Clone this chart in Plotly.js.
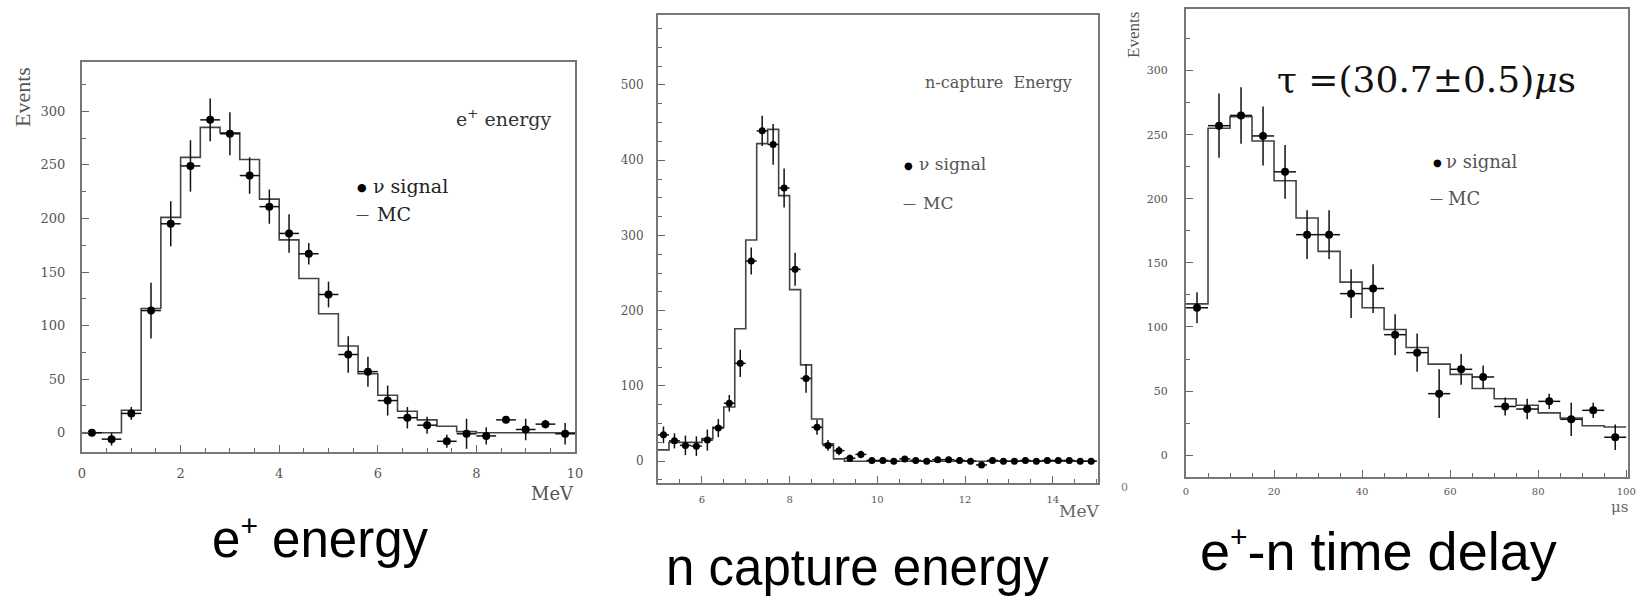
<!DOCTYPE html>
<html>
<head>
<meta charset="utf-8">
<script src="https://cdn.plot.ly/plotly-3.0.1.min.js"></script>
<style>
  html, body { margin: 0; padding: 0; background: #fff; }
  #chart { width: 1641px; height: 600px; }
</style>
</head>
<body>
<div id="chart"></div>
<script>
// ---------- Panel 1: e+ energy (bins of 0.4 MeV from 0 to 10) ----------
const ePosBinStart = 0;
const ePosBinWidth = 0.4;
const ePosData = [0, -6, 18, 114, 195, 249, 292, 279, 240, 211, 186, 167, 129, 73, 57, 30, 14, 7, -8, -1, -3, 12, 3, 8, -1];
const ePosErr  = [3, 6, 6, 26, 21, 24, 20, 20, 17, 16, 18, 10, 12, 17, 14, 14, 10, 8, 6, 14, 8, 3, 10, 4, 10];
const ePosMC   = [0, 0, 21, 116, 201, 257, 285, 280, 255, 218, 180, 144, 111, 81, 55, 35, 20, 12, 6, 1, 0, 0, 0, 0, 0];

// ---------- Panel 2: n capture energy (bins of 0.25 MeV from 5 to 15) ----------
const nBinStart = 5;
const nBinWidth = 0.25;
const nData = [35, 27, 21, 20, 28, 44, 77, 130, 266, 439, 421, 363, 255, 110, 45, 21, 14, 4, 9, 1,
               1, 0, 3, 1, 0, 2, 2, 1, 0, -5, 1, 0, 0, 1, 0, 1, 1, 1, 0, 0];
const nErr  = [11, 10, 13, 13, 14, 12, 11, 18, 18, 20, 27, 26, 22, 19, 10, 7, 6, 5, 5, 4,
               4, 4, 4, 4, 4, 4, 4, 4, 4, 4, 4, 4, 4, 4, 4, 4, 4, 4, 4, 4];
const nMC   = [15, 25, 25, 25, 30, 45, 72, 176, 294, 422, 441, 353, 228, 128, 56, 23, 3, 0, 0, 0,
               0, 0, 0, 0, 0, 0, 0, 0, 0, 0, 0, 0, 0, 0, 0, 0, 0, 0, 0, 0];

// ---------- Panel 3: e+-n time delay (bins of 5 us from 0 to 100) ----------
const tBinStart = 0;
const tBinWidth = 5;
const tData = [115, 257, 265, 249, 221, 172, 172, 126, 130, 94, 80, 48, 67, 61, 38, 36, 42, 28, 35, 14];
const tErr  = [12, 25, 22, 23, 21, 19, 19, 19, 19, 16, 15, 19, 12, 9, 7, 8, 6, 13, 6, 10];
const tMC   = [118, 255, 264, 245, 214, 185, 159, 135, 115, 98, 84, 71, 63, 52, 44, 39, 33, 29, 23, 22];

// ---------- Text ----------
const captions = [
  'e<sup><span style="font-size:30px">+</span></sup> energy',
  'n capture energy',
  'e<sup><span style="font-size:30px">+</span></sup>-n time delay'
];
const panelLabels = ['e<sup>+</sup> energy', 'n-capture  Energy', 'τ =(30.7±0.5)<i>μ</i>s'];
const unitLabels = ['MeV', 'MeV', 'μs'];
const legendData = 'ν signal';
const legendMC = 'MC';
const yTitle = 'Events';

// ---------- helpers ----------
const W = 1641, H = 600;
const px = v => v / W;
const py = v => 1 - v / H;

function centers(start, width, n) {
  const c = [];
  for (let i = 0; i < n; i++) c.push(start + (i + 0.5) * width);
  return c;
}
function stepX(start, width, n) {
  const e = [];
  for (let i = 0; i <= n; i++) e.push(start + i * width);
  return e;
}
function stepY(vals) { return vals.concat([vals[vals.length - 1]]); }

function dataTrace(start, width, vals, errs, xa, ya, msize) {
  return {
    type: 'scatter', mode: 'markers', xaxis: xa, yaxis: ya,
    x: centers(start, width, vals.length), y: vals,
    marker: { color: '#000', size: msize },
    error_y: { type: 'data', array: errs, visible: true, color: '#111', thickness: 1.5, width: 0 },
    error_x: { type: 'constant', value: width / 2, visible: true, color: '#111', thickness: 1.5, width: 0 },
    showlegend: false, hoverinfo: 'skip', cliponaxis: true
  };
}
function mcTrace(start, width, vals, xa, ya) {
  return {
    type: 'scatter', mode: 'lines', xaxis: xa, yaxis: ya,
    x: stepX(start, width, vals.length), y: stepY(vals),
    line: { shape: 'hv', color: '#444', width: 1.6 },
    showlegend: false, hoverinfo: 'skip'
  };
}

const traces = [
  mcTrace(ePosBinStart, ePosBinWidth, ePosMC, 'x', 'y'),
  dataTrace(ePosBinStart, ePosBinWidth, ePosData, ePosErr, 'x', 'y', 8),
  mcTrace(nBinStart, nBinWidth, nMC, 'x2', 'y2'),
  dataTrace(nBinStart, nBinWidth, nData, nErr, 'x2', 'y2', 7),
  mcTrace(tBinStart, tBinWidth, tMC, 'x3', 'y3'),
  dataTrace(tBinStart, tBinWidth, tData, tErr, 'x3', 'y3', 8)
];

const SERIF = 'DejaVu Serif, Liberation Serif, serif';
const tf = (size) => ({ family: SERIF, size: size, color: '#555' });
function axisBase(extra) {
  return Object.assign({
    showgrid: false, zeroline: false, showline: true, mirror: true,
    linecolor: '#777', linewidth: 2,
    ticks: 'inside', ticklen: 7, tickwidth: 1, tickcolor: '#666',
    tickfont: tf(13), fixedrange: true
  }, extra);
}
const minor = (d) => ({ dtick: d, ticklen: 4, ticks: 'inside', tickcolor: '#666' });

const layout = {
  width: W, height: H,
  margin: { l: 0, r: 0, t: 0, b: 0, pad: 0 },
  paper_bgcolor: '#fff', plot_bgcolor: '#fff',
  showlegend: false,
  xaxis: axisBase({ domain: [px(82), px(575)], range: [0, 10], dtick: 2, tick0: 0, anchor: 'y',
    ticklabelstandoff: 8, tickfont: tf(13), minor: minor(0.5) }),
  yaxis: axisBase({ domain: [py(452), py(62)], range: [-18, 346], dtick: 50, tick0: 0, anchor: 'x',
    ticklabelstandoff: 12, tickfont: tf(13), minor: minor(25) }),
  xaxis2: axisBase({ domain: [px(658), px(1098)], range: [5, 15.03], dtick: 2, tick0: 0, anchor: 'y2',
    ticklabelstandoff: 6, tickfont: tf(10), minor: minor(0.5) }),
  yaxis2: axisBase({ domain: [py(483), py(15)], range: [-29, 593], dtick: 100, tick0: 0, anchor: 'x2',
    ticklabelstandoff: 10, tickfont: tf(12), minor: minor(25) }),
  xaxis3: axisBase({ domain: [px(1186), px(1628)], range: [0, 100.4], dtick: 20, tick0: 0, anchor: 'y3',
    ticklabelstandoff: 4, tickfont: tf(10), minor: minor(5) }),
  yaxis3: axisBase({ domain: [py(477), py(9)], range: [-17, 348], dtick: 50, tick0: 0, anchor: 'x3',
    ticklabelstandoff: 14, tickfont: tf(11), minor: minor(25) }),
  annotations: []
};

function ann(text, x, y, opts) {
  layout.annotations.push(Object.assign({
    text: text, xref: 'paper', yref: 'paper', x: px(x), y: py(y),
    showarrow: false, xanchor: 'center', yanchor: 'middle'
  }, opts));
}
const serif = (size, color) => ({ family: SERIF, size: size, color: color || '#333' });
const times = (size, color) => ({ family: 'Liberation Serif, serif', size: size, color: color || '#333' });
const sans = (size) => ({ family: 'Liberation Sans, Arial, Helvetica, sans-serif', size: size, color: '#000' });

// Panel 1 texts
ann(yTitle, 23, 97, { textangle: -90, font: times(22, '#555') });
ann(panelLabels[0], 503, 118, { font: serif(19, '#333') });
ann('●', 362, 187, { font: serif(11, '#000') });
ann(legendData, 371, 186, { xanchor: 'left', font: serif(19, '#222') });
ann('—', 362, 214, { font: serif(13, '#444') });
ann(legendMC, 375, 214, { xanchor: 'left', font: serif(19, '#222') });
ann(unitLabels[0], 576, 493, { xanchor: 'right', font: serif(18, '#555') });

// Panel 2 texts
ann(panelLabels[1], 998, 83, { font: serif(16, '#555') });
ann('●', 908, 165, { font: serif(10, '#000') });
ann(legendData, 917, 164, { xanchor: 'left', font: serif(17, '#555') });
ann('—', 910, 203, { font: serif(13, '#555') });
ann(legendMC, 921, 203, { xanchor: 'left', font: serif(17, '#555') });
ann(unitLabels[1], 1101, 511, { xanchor: 'right', font: serif(17, '#666') });
ann('0', 1124, 487, { font: serif(11, '#777') });

// Panel 3 texts
ann(yTitle, 1133, 35, { textangle: -90, font: times(17, '#555') });
ann(panelLabels[2], 1426, 80, { font: serif(36, '#111') });
ann('●', 1437, 162, { font: serif(10, '#000') });
ann(legendData, 1444, 161, { xanchor: 'left', font: serif(18, '#555') });
ann('—', 1436, 198, { font: serif(13, '#555') });
ann(legendMC, 1446, 198, { xanchor: 'left', font: serif(18, '#555') });
ann(unitLabels[2], 1619, 507, { font: serif(15, '#666') });

// Bottom captions
ann(captions[0], 320, 538, { font: sans(51) });
ann(captions[1], 857, 567, { font: sans(51) });
ann(captions[2], 1378, 550, { font: sans(54) });

Plotly.newPlot('chart', traces, layout, { staticPlot: true, displayModeBar: false });
</script>
</body>
</html>
